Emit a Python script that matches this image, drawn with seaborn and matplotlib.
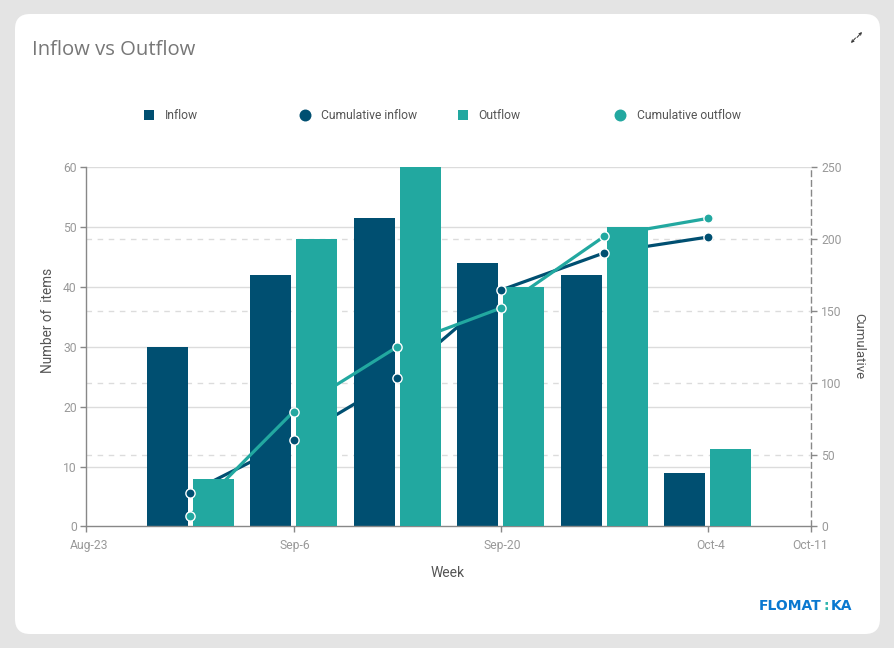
import matplotlib
matplotlib.use('Agg')
import matplotlib.pyplot as plt
import matplotlib.dates as mdates
from matplotlib.lines import Line2D
from matplotlib.patches import FancyBboxPatch
from matplotlib.transforms import ScaledTranslation
import pandas as pd
import seaborn as sns

weeks = ['2021-08-30', '2021-09-06', '2021-09-13', '2021-09-20', '2021-09-27', '2021-10-04']
inflow = [30, 42, 51.5, 44, 42, 9]
outflow = [8, 48, 60, 40, 50, 13]
cumulative_inflow = [23.5, 60, 103, 164.5, 190.5, 201.5]
cumulative_outflow = [7.5, 80, 125, 152, 202, 214.5]

tick_dates = ['2021-08-23', '2021-09-06', '2021-09-20', '2021-10-04', '2021-10-11']
tick_labels = ['Aug-23', 'Sep-6', 'Sep-20', 'Oct-4', 'Oct-11']
left_ticks = [0, 10, 20, 30, 40, 50, 60]
right_ticks = [0, 50, 100, 150, 200, 250]

DARK = '#004f71'
TEAL = '#22a8a0'
W, H = 895, 648

sns.set_theme(style='white')
plt.rcParams['font.family'] = ['Roboto', 'DejaVu Sans']

fig = plt.figure(figsize=(W / 100, H / 100), dpi=100, facecolor='#e4e4e4')
card = FancyBboxPatch((15 + 15, 14 + 15), 865 - 30, 620 - 30, boxstyle='round,pad=15,rounding_size=15',
                      transform=None, facecolor='white', edgecolor='none', zorder=-5)
fig.add_artist(card)

ax = fig.add_axes([86.45 / W, 1 - 526.4 / H, 725 / W, 359 / H])
ax.patch.set_alpha(0)

x = mdates.date2num(pd.to_datetime(weeks))
df = pd.DataFrame({'week': list(x) * 2, 'items': inflow + outflow,
                   'kind': ['Inflow'] * 6 + ['Outflow'] * 6})
sns.barplot(data=df, x='week', y='items', hue='kind', native_scale=True, dodge=True,
            palette={'Inflow': DARK, 'Outflow': TEAL}, width=0.888, gap=0.109, saturation=1,
            errorbar=None, legend=False, linewidth=0, ax=ax)

# dark bars go under the lines, teal bars over them
for patch in ax.containers[0]:
    patch.set_zorder(2)
for patch in ax.containers[1]:
    patch.set_zorder(5)


def to_left(v):
    return v * 60 / 250


def to_right(v):
    return v * 250 / 60


sns.lineplot(x=x, y=to_left(pd.Series(cumulative_inflow)), color=DARK, linewidth=2.3, zorder=3,
             errorbar=None, ax=ax)
sns.lineplot(x=x, y=to_left(pd.Series(cumulative_outflow)), color=TEAL, linewidth=2.3, zorder=4,
             errorbar=None, ax=ax)
sns.scatterplot(x=x, y=to_left(pd.Series(cumulative_inflow)), color=DARK, s=44, edgecolor='white',
                linewidth=1.0, zorder=6, clip_on=False, ax=ax)
sns.scatterplot(x=x, y=to_left(pd.Series(cumulative_outflow)), color=TEAL, s=44, edgecolor='white',
                linewidth=1.0, zorder=6, clip_on=False, ax=ax)

ticks = mdates.date2num(pd.to_datetime(tick_dates))
ax.set_xlim(ticks[0], ticks[-1])
ax.set_ylim(0, 60)
ax.set_xticks(ticks, tick_labels)
ax.set_yticks(left_ticks)

ax.grid(False)
ax.hlines(left_ticks[1:], ticks[0], ticks[-1], color='#dcdcdc', linewidth=1, zorder=0.5)
ax.hlines([to_left(v) for v in right_ticks[1:-1]], ticks[0], ticks[-1], color='#dcdcdc',
          linewidth=1, linestyles=(0, (4, 4)), zorder=0.5)

for side in ['top', 'right']:
    ax.spines[side].set_visible(False)
for side in ['left', 'bottom']:
    ax.spines[side].set_color('#888888')
    ax.spines[side].set_linewidth(1)
ax.tick_params(axis='both', length=4, width=1, color='#888888', labelcolor='#999999',
               labelsize=8.7, pad=3, bottom=True, left=True)
ax.tick_params(axis='x', pad=5)

sec = ax.secondary_yaxis('right', functions=(to_right, to_left))
sec.set_yticks(right_ticks)
sec.spines['right'].set_color('#888888')
sec.spines['right'].set_linewidth(1)
sec.spines['right'].set_linestyle((0, (4, 3)))
sec.tick_params(axis='y', length=4, width=1, color='#888888', labelcolor='#999999', labelsize=8.7,
                pad=3, right=True)

ax.set_xlabel('Week', fontsize=10, color='#555555')
ax.xaxis.set_label_coords(0.4986, -0.13, transform=ax.transAxes)
ax.xaxis.label.set_verticalalignment('center')
ax.set_ylabel('Number of  items', fontsize=9.8, color='#555555')
ax.yaxis.set_label_coords(-0.044, 0.575, transform=ax.transAxes)
sec.set_ylabel('Cumulative', fontsize=9.5, color='#555555', rotation=270, va='center')
sec.yaxis.set_label_coords(1.065, 0.503, transform=ax.transAxes)

# labels sit a little off their ticks in the original
for label, dx in zip(ax.get_xticklabels(), [3, 1.5, 1.5, 3, -1.5]):
    label.set_transform(label.get_transform() + ScaledTranslation(dx / 100, 0, fig.dpi_scale_trans))

fig.text(32 / W, 1 - 50 / H, 'Inflow vs Outflow', fontsize=14.6, color='#777777', family='Open Sans',
         va='center', ha='left')

legend_items = [
    ('Inflow', 's', DARK, 7.4, 143, 0.85),
    ('Cumulative inflow', 'o', DARK, 8.6, 299, 0.85),
    ('Outflow', 's', TEAL, 7.4, 457, 0.75),
    ('Cumulative outflow', 'o', TEAL, 8.6, 614, 0.9),
]
for name, marker, colour, size, left, pad in legend_items:
    handle = Line2D([], [], linestyle='none', marker=marker, color=colour, markersize=size,
                    markeredgewidth=0)
    fig.legend(handles=[handle], labels=[name], loc='center left', frameon=False,
               bbox_to_anchor=(left / W, 1 - 115.5 / H), borderpad=0, borderaxespad=0,
               handlelength=1.0, handletextpad=pad, fontsize=8.7, labelcolor='#555555')

# expand icon
for start, end in [((857, 37.5), (862, 32)), ((855.5, 38), (851, 43))]:
    ax.annotate('', xy=(end[0], H - end[1]), xytext=(start[0], H - start[1]),
                xycoords='figure pixels', textcoords='figure pixels', annotation_clip=False,
                arrowprops=dict(arrowstyle='->', color='#333333', lw=0.7, mutation_scale=4,
                                shrinkA=0, shrinkB=0))

# logo
fig.text(759 / W, 1 - 606 / H, 'FLOMAT', fontsize=10, weight='bold', color='#0a78d0', family='DejaVu Sans',
         va='center', ha='left')
fig.text(826.5 / W, 1 - 605.5 / H, ':', fontsize=10, weight='bold', color='#2fb5ae', family='DejaVu Sans',
         va='center', ha='center')
fig.text(831 / W, 1 - 606 / H, 'KA', fontsize=10, weight='bold', color='#0a78d0', family='DejaVu Sans',
         va='center', ha='left')

fig.savefig('out.png', dpi=100, facecolor=fig.get_facecolor())
